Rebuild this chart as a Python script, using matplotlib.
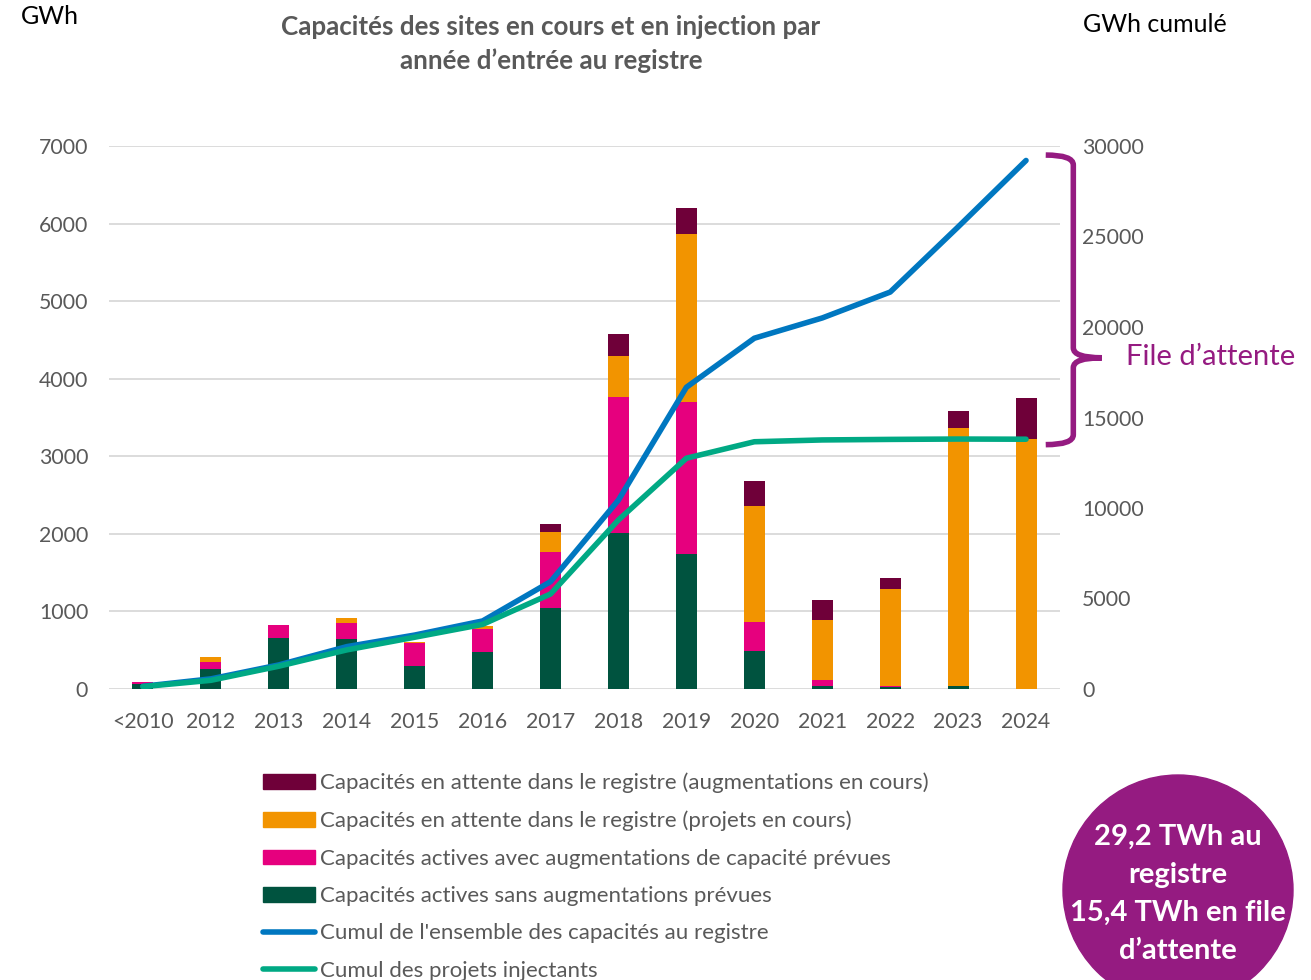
import numpy as np
import matplotlib
matplotlib.use("Agg")
import matplotlib.pyplot as plt
from matplotlib.patches import Patch, Ellipse, PathPatch
from matplotlib.lines import Line2D
from matplotlib.path import Path
import matplotlib.transforms as mtransforms

plt.rcParams['font.family'] = ['Lato', 'DejaVu Sans']

years = ["<2010", "2012", "2013", "2014", "2015", "2016", "2017", "2018",
         "2019", "2020", "2021", "2022", "2023", "2024"]

# GWh par année d'entrée au registre
actives_sans = [65, 258, 654, 645, 300, 480, 1040, 2015, 1744, 486, 40, 20, 35, 0]
actives_avec = [25, 95, 170, 210, 290, 295, 730, 1753, 1952, 382, 72, 22, 0, 0]
attente_projets = [0, 60, 0, 65, 20, 35, 258, 529, 2170, 1495, 783, 1251, 3326, 3227]
attente_augm = [0, 0, 0, 0, 0, 0, 103, 283, 335, 318, 252, 142, 219, 524]

# GWh cumulé
cumul_registre = [150, 560, 1330, 2340, 2980, 3760, 5930, 10440, 16670, 19380,
                  20500, 21930, 25530, 29200]
cumul_injectants = [130, 480, 1260, 2160, 2860, 3570, 5250, 9340, 12750, 13660,
                    13760, 13790, 13810, 13800]

labels = ["Capacités en attente dans le registre (augmentations en cours)",
          "Capacités en attente dans le registre (projets en cours)",
          "Capacités actives avec augmentations de capacité prévues",
          "Capacités actives sans augmentations prévues",
          "Cumul de l'ensemble des capacités au registre",
          "Cumul des projets injectants"]

c_augm = "#6F0039"
c_proj = "#F29400"
c_avec = "#E6007E"
c_sans = "#00533F"
c_blue = "#0077C0"
c_teal = "#00A984"
c_purple = "#951B81"
grey = "#595959"

fig = plt.figure(figsize=(13.11, 9.8), dpi=100)
ax = fig.add_axes([109/1311, 1-689/980, 951/1311, 543/980])
ax2 = ax.twinx()

x = np.arange(len(years))
w = 0.31
b1 = np.array(actives_sans)
b2 = b1 + np.array(actives_avec)
b3 = b2 + np.array(attente_projets)
ax.bar(x, actives_sans, w, color=c_sans, zorder=2)
ax.bar(x, actives_avec, w, bottom=b1, color=c_avec, zorder=2)
ax.bar(x, attente_projets, w, bottom=b2, color=c_proj, zorder=2)
ax.bar(x, attente_augm, w, bottom=b3, color=c_augm, zorder=2)

ax2.plot(x, cumul_registre, color=c_blue, lw=4, solid_capstyle="round", zorder=3)
ax2.plot(x, cumul_injectants, color=c_teal, lw=4, solid_capstyle="round", zorder=3)

ax.set_xlim(-0.5, 13.5)
ax.set_ylim(0, 7000)
ax2.set_ylim(0, 30000)
ax.set_yticks(range(0, 7001, 1000))
ax2.set_yticks(range(0, 30001, 5000))
ax.set_xticks(x)
ax.set_xticklabels(years)
ax.grid(axis="y", color="#D9D9D9", lw=1.3, zorder=0)
ax.set_axisbelow(True)
for a in (ax, ax2):
    for s in a.spines.values():
        s.set_visible(False)
ax.tick_params(axis="y", length=0, pad=15, labelsize=15.3, labelcolor=grey)
ax.tick_params(axis="x", length=0, pad=16.5, labelsize=15.3, labelcolor=grey)
ax2.tick_params(axis="y", length=0, pad=16, labelsize=15.3, labelcolor=grey)

fig.text(50/1311, 1-16/980, "GWh", fontsize=18, color="black", ha="center", va="center")
fig.text(1155/1311, 1-24/980, "GWh cumulé", fontsize=18, color="black", ha="center", va="center")
fig.text(551/1311, 1-44/980,
         "Capacités des sites en cours et en injection par\nannée d’entrée au registre",
         fontsize=18.7, fontweight="bold", color=grey, ha="center", va="center",
         linespacing=1.45)

# accolade "File d'attente"
tr = mtransforms.blended_transform_factory(ax2.transAxes, ax2.transData)
top = cumul_registre[-1] + 300
bot = cumul_injectants[-1] - 300
mid = 18300
x0, x1, xt = 0.985, 1.014, 1.044
r = 550
verts = [(x0, top), (x1, top), (x1, top - r),
         (x1, mid + r), (x1, mid), (xt, mid),
         (x1, mid), (x1, mid - r),
         (x1, bot + r), (x1, bot), (x0, bot)]
codes = [Path.MOVETO, Path.CURVE3, Path.CURVE3,
         Path.LINETO, Path.CURVE3, Path.CURVE3,
         Path.CURVE3, Path.CURVE3,
         Path.LINETO, Path.CURVE3, Path.CURVE3]
ax2.add_patch(PathPatch(Path(verts, codes), transform=tr, fill=False,
                        edgecolor=c_purple, lw=4, clip_on=False))
fig.text(1211/1311, 1-357/980, "File d’attente", fontsize=21, color=c_purple,
         ha="center", va="center")

handles = [Patch(color=c_augm), Patch(color=c_proj), Patch(color=c_avec),
           Patch(color=c_sans),
           Line2D([], [], color=c_blue, lw=4, solid_capstyle="round"),
           Line2D([], [], color=c_teal, lw=4, solid_capstyle="round")]
leg = fig.legend(handles, labels, loc="upper left",
                 bbox_to_anchor=(254/1311, 1-764/980), frameon=False,
                 fontsize=16, labelspacing=0.78, handlelength=2.35,
                 handleheight=0.65, handletextpad=0.2, borderaxespad=0)
for t in leg.get_texts():
    t.set_color(grey)

circle = Ellipse((1178/1311, 1-890/980), 230/1311, 230/980,
                 transform=fig.transFigure, color=c_purple, zorder=5)
fig.patches.append(circle)
fig.text(1178/1311, 1-894/980,
         "29,2 TWh au\nregistre\n15,4 TWh en file\nd’attente",
         fontsize=21, fontweight="bold", color="white", ha="center", va="center",
         linespacing=1.58, zorder=6)

fig.savefig("out.png", dpi=100)
